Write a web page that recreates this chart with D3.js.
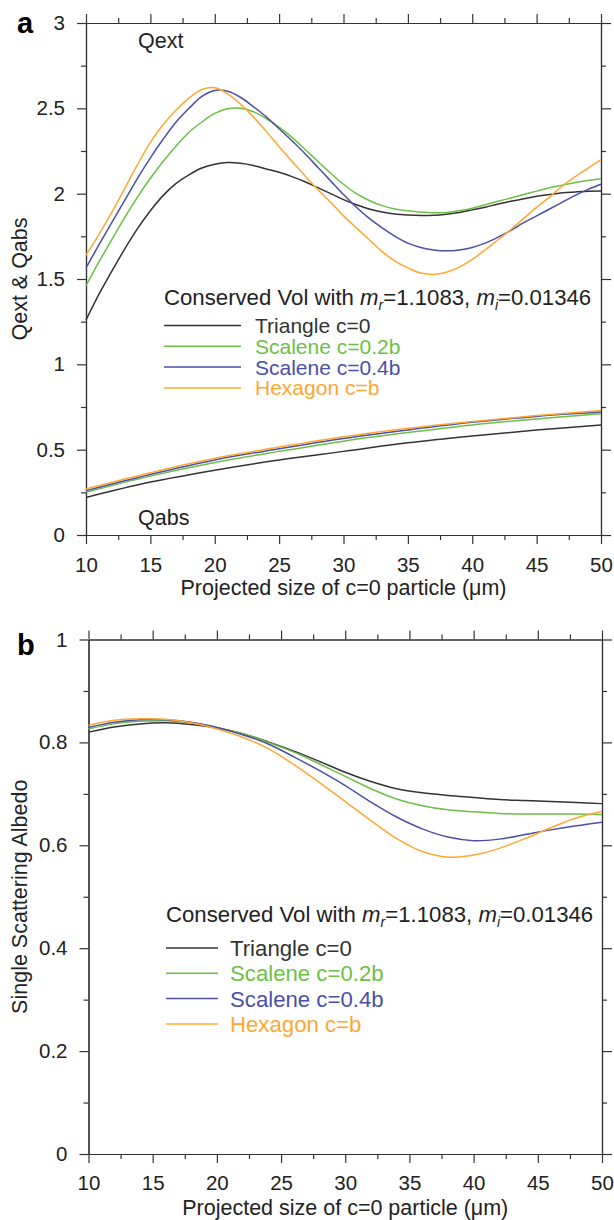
<!DOCTYPE html>
<html>
<head>
<meta charset="utf-8">
<script src="https://cdn.jsdelivr.net/npm/d3@7"></script>
<style>
  html, body { margin: 0; padding: 0; background: #fff; }
  svg { display: block; font-family: "Liberation Sans", Arial, sans-serif; }
</style>
</head>
<body>
<svg id="chart" width="614" height="1220"></svg>
<script>
// ---------------- DATA ----------------
const seriesNames = ["Triangle c=0", "Scalene c=0.2b", "Scalene c=0.4b", "Hexagon c=b"];
const seriesColors = ["#333333", "#6cbf45", "#4a4fa8", "#ffa733"];

// Panel a: Qext vs projected size (µm)
const qextSizes = [10,11,12,13,14,15,16,17,18,19,20,21,22,23,24,25,26,27,28,29,30,
                   31,32,33,34,35,36,37,38,39,40,41,42,43,44,45,46,47,48,49,50];
const qextTriangle = [1.26,1.41,1.545,1.675,1.795,1.9,1.99,2.06,2.11,2.15,2.172,2.182,2.178,2.165,2.145,2.125,2.10,2.07,2.035,2.0,1.965,
                      1.935,1.91,1.893,1.881,1.875,1.872,1.873,1.88,1.89,1.905,1.92,1.94,1.955,1.97,1.985,1.995,2.005,2.01,2.014,2.015];
const qextScalene02 = [1.46,1.60,1.73,1.86,1.98,2.09,2.19,2.28,2.36,2.42,2.47,2.497,2.50,2.48,2.44,2.39,2.33,2.26,2.19,2.12,2.055,
                       2.0,1.96,1.93,1.91,1.90,1.892,1.888,1.89,1.90,1.915,1.935,1.955,1.975,1.995,2.015,2.035,2.05,2.065,2.077,2.087];
const qextScalene04 = [1.565,1.70,1.83,1.96,2.09,2.21,2.32,2.42,2.50,2.57,2.605,2.60,2.565,2.51,2.45,2.38,2.31,2.235,2.155,2.075,1.995,
                       1.92,1.855,1.80,1.75,1.71,1.685,1.67,1.665,1.67,1.685,1.71,1.745,1.785,1.83,1.87,1.91,1.95,1.99,2.025,2.055];
const qextHexagon = [1.64,1.76,1.89,2.03,2.17,2.30,2.405,2.49,2.56,2.61,2.62,2.585,2.525,2.45,2.365,2.275,2.19,2.105,2.025,1.95,1.87,
                     1.80,1.73,1.66,1.605,1.565,1.535,1.527,1.54,1.57,1.615,1.67,1.73,1.79,1.855,1.92,1.98,2.045,2.10,2.15,2.20];

// Panel a: Qabs
const qabsSizes = [10,15,20,25,30,35,40,45,50];
const qabsTriangle  = [0.22,0.31,0.38,0.44,0.49,0.54,0.58,0.615,0.645];
const qabsScalene02 = [0.25,0.345,0.425,0.49,0.55,0.60,0.645,0.68,0.71];
const qabsScalene04 = [0.26,0.355,0.44,0.505,0.565,0.615,0.66,0.695,0.72];
const qabsHexagon   = [0.27,0.365,0.45,0.515,0.575,0.625,0.665,0.70,0.73];

// Panel b: Single scattering albedo
const albedoSizes = [10,12,14,16,18,20,22,24,26,28,30,32,34,36,38,40,42,44,46,48,50];
const albedoTriangle  = [0.820,0.830,0.836,0.838,0.835,0.828,0.817,0.801,0.783,0.763,0.742,0.724,0.710,0.702,0.697,0.693,0.689,0.687,0.685,0.683,0.681];
const albedoScalene02 = [0.826,0.836,0.841,0.842,0.838,0.829,0.817,0.800,0.781,0.758,0.734,0.710,0.690,0.677,0.669,0.665,0.662,0.661,0.661,0.661,0.660];
const albedoScalene04 = [0.829,0.839,0.844,0.844,0.839,0.829,0.815,0.797,0.772,0.745,0.716,0.684,0.655,0.632,0.616,0.609,0.612,0.621,0.630,0.638,0.645];
const albedoHexagon   = [0.833,0.843,0.846,0.845,0.838,0.826,0.810,0.788,0.757,0.722,0.685,0.648,0.613,0.588,0.577,0.581,0.594,0.613,0.634,0.653,0.666];

// Tick values
const xMajorTicks = [10,15,20,25,30,35,40,45,50];
const xMinorTicks = [12.5,17.5,22.5,27.5,32.5,37.5,42.5,47.5];
const yMajorTicksA = [0,0.5,1,1.5,2,2.5,3];
const yMinorTicksA = [0.25,0.75,1.25,1.75,2.25,2.75];
const yMajorTicksB = [0,0.2,0.4,0.6,0.8,1];
const yMinorTicksB = [0.1,0.3,0.5,0.7,0.9];

const xLabel = "Projected size of c=0 particle (\u03BCm)";

// ---------------- DRAW ----------------
const svg = d3.select("#chart");
const AXIS_COLOR = "#333";
const TICK_FS = 20.5, TITLE_FS = 21.5, LEGEND_FS = 22.2;

function styleAxis(g) {
  g.selectAll("path.domain").attr("stroke", AXIS_COLOR).attr("stroke-width", 1.2);
  g.selectAll(".tick line").attr("stroke", AXIS_COLOR).attr("stroke-width", 1.2);
  g.selectAll(".tick text").attr("fill", "#222").attr("font-size", TICK_FS)
    .attr("font-family", '"Liberation Sans", Arial, sans-serif');
}

function drawPanel(cfg) {
  const x = d3.scaleLinear().domain([10, 50]).range([cfg.left, cfg.right]);
  const y = d3.scaleLinear().domain(cfg.yDomain).range([cfg.bottom, cfg.top]);
  const g = svg.append("g");

  // bottom axis
  g.append("g").attr("transform", `translate(0,${cfg.bottom})`)
    .call(d3.axisBottom(x).tickValues(xMinorTicks).tickSize(5).tickSizeOuter(0).tickFormat(""))
    .call(styleAxis);
  g.append("g").attr("transform", `translate(0,${cfg.bottom})`)
    .call(d3.axisBottom(x).tickValues(xMajorTicks).tickSize(9).tickSizeOuter(0).tickPadding(cfg.xPad).tickFormat(d3.format("d")))
    .call(styleAxis);
  // top axis
  g.append("g").attr("transform", `translate(0,${cfg.top})`)
    .call(d3.axisTop(x).tickValues(xMinorTicks).tickSize(5).tickSizeOuter(0).tickFormat(""))
    .call(styleAxis);
  g.append("g").attr("transform", `translate(0,${cfg.top})`)
    .call(d3.axisTop(x).tickValues(xMajorTicks).tickSize(9).tickSizeOuter(0).tickFormat(""))
    .call(styleAxis);
  // left axis
  g.append("g").attr("transform", `translate(${cfg.left},0)`)
    .call(d3.axisLeft(y).tickValues(cfg.yMinor).tickSize(5).tickSizeOuter(0).tickFormat(""))
    .call(styleAxis);
  g.append("g").attr("transform", `translate(${cfg.left},0)`)
    .call(d3.axisLeft(y).tickValues(cfg.yMajor).tickSize(9).tickSizeOuter(0).tickPadding(12).tickFormat(d => String(+d.toFixed(2))))
    .call(styleAxis);
  // right axis
  g.append("g").attr("transform", `translate(${cfg.right},0)`)
    .call(d3.axisRight(y).tickValues(cfg.yMinor).tickSize(5).tickSizeOuter(0).tickFormat(""))
    .call(styleAxis);
  g.append("g").attr("transform", `translate(${cfg.right},0)`)
    .call(d3.axisRight(y).tickValues(cfg.yMajor).tickSize(10).tickSizeOuter(0).tickFormat(""))
    .call(styleAxis);

  // curves
  const line = d3.line().x(d => x(d[0])).y(d => y(d[1])).curve(d3.curveCatmullRom.alpha(0.5));
  cfg.groups.forEach(grp => {
    grp.values.forEach((vals, i) => {
      const pts = grp.sizes.map((s, k) => [s, vals[k]]);
      g.append("path").datum(pts).attr("d", line)
        .attr("fill", "none").attr("stroke", seriesColors[i]).attr("stroke-width", 1.5);
    });
  });

  // axis titles
  g.append("text").attr("x", (cfg.left + cfg.right) / 2).attr("y", cfg.xTitleY)
    .attr("text-anchor", "middle").attr("font-size", TITLE_FS).attr("fill", "#222").text(xLabel);
  g.append("text").attr("transform", `translate(${cfg.yTitleX},${(cfg.top + cfg.bottom) / 2}) rotate(-90)`)
    .attr("text-anchor", "middle").attr("font-size", TITLE_FS).attr("fill", "#222").text(cfg.yTitle);

  // panel label
  g.append("text").attr("x", 17).attr("y", cfg.labelY).attr("font-size", 29).attr("font-weight", "bold")
    .attr("fill", "#000").text(cfg.label);

  // legend
  const lg = cfg.legend;
  const t = g.append("text").attr("x", lg.x).attr("y", lg.titleY).attr("font-size", LEGEND_FS).attr("fill", "#222");
  t.append("tspan").text("Conserved Vol with ");
  t.append("tspan").attr("font-style", "italic").text("m");
  t.append("tspan").attr("font-style", "italic").attr("font-size", 14).attr("dy", 5).text("r");
  t.append("tspan").attr("dy", -5).text("=1.1083, ");
  t.append("tspan").attr("font-style", "italic").text("m");
  t.append("tspan").attr("font-style", "italic").attr("font-size", 14).attr("dy", 5).text("i");
  t.append("tspan").attr("dy", -5).text("=0.01346");

  seriesNames.forEach((name, i) => {
    const yy = lg.rowY0 + i * lg.rowStep;
    g.append("line").attr("x1", lg.x).attr("x2", lg.lineEnd).attr("y1", yy).attr("y2", yy)
      .attr("stroke", seriesColors[i]).attr("stroke-width", 1.5);
    g.append("text").attr("x", lg.textX).attr("y", yy).attr("dy", "0.36em")
      .attr("font-size", lg.fs).attr("fill", seriesColors[i]).text(name);
  });

  return {x, y, g};
}

// Panel a
const pa = drawPanel({
  left: 86, right: 601, top: 23, bottom: 535,
  yDomain: [0, 3], yMajor: yMajorTicksA, yMinor: yMinorTicksA,
  xPad: 13, xTitleY: 595, yTitleX: 27, yTitle: "Qext & Qabs",
  label: "a", labelY: 33,
  groups: [
    {sizes: qextSizes, values: [qextTriangle, qextScalene02, qextScalene04, qextHexagon]},
    {sizes: qabsSizes, values: [qabsTriangle, qabsScalene02, qabsScalene04, qabsHexagon]}
  ],
  legend: {x: 164, titleY: 305, rowY0: 325.5, rowStep: 20.8, lineEnd: 241, textX: 255, fs: 21}
});
pa.g.append("text").attr("x", 138).attr("y", 48).attr("font-size", TITLE_FS).attr("fill", "#222").text("Qext");
pa.g.append("text").attr("x", 138).attr("y", 525).attr("font-size", TITLE_FS).attr("fill", "#222").text("Qabs");

// Panel b
drawPanel({
  left: 88.5, right: 602, top: 639.5, bottom: 1154,
  yDomain: [0, 1], yMajor: yMajorTicksB, yMinor: yMinorTicksB,
  xPad: 12, xTitleY: 1215, yTitleX: 27, yTitle: "Single Scattering Albedo",
  label: "b", labelY: 655,
  groups: [
    {sizes: albedoSizes, values: [albedoTriangle, albedoScalene02, albedoScalene04, albedoHexagon]}
  ],
  legend: {x: 166, titleY: 922, rowY0: 948, rowStep: 25.3, lineEnd: 218, textX: 230, fs: 22.2}
});
</script>
</body>
</html>
